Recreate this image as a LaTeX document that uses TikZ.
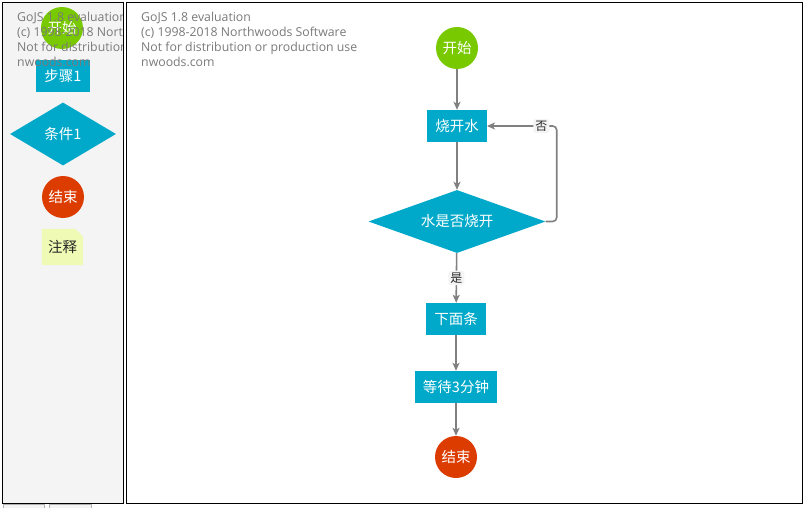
\documentclass[tikz,border=0pt]{standalone}
\usepackage{fontspec}
\setmainfont{Open Sans}
\newfontfamily\cjk{Noto Sans CJK SC}
\usetikzlibrary{arrows.meta,shapes.geometric,positioning}
\definecolor{gostart}{HTML}{79C900}
\definecolor{gostep}{HTML}{00A9C9}
\definecolor{goend}{HTML}{DC3C00}
\definecolor{gonote}{HTML}{EFFAB4}
\definecolor{golink}{HTML}{808080}
\definecolor{gopanel}{HTML}{F4F4F4}
\definecolor{gowater}{HTML}{7A7A7A}

\begin{document}
\begin{tikzpicture}[x=1pt,y=-1pt,
  txt/.style={font=\cjk\fontsize{14.5}{16}\selectfont,text=white},
  startnode/.style={circle,fill=gostart,minimum size=42pt,inner sep=0pt,txt},
  endnode/.style={circle,fill=goend,minimum size=42pt,inner sep=0pt,txt},
  stepnode/.style={rectangle,fill=gostep,minimum height=32pt,inner xsep=8pt,inner ysep=0pt,txt},
  condnode/.style={diamond,fill=gostep,aspect=2.8,minimum width=177pt,minimum height=63pt,inner sep=0pt,txt},
  link/.style={draw=golink,line width=1.6pt,-{Stealth[length=8pt,width=7pt,inset=2pt]}},
  lbl/.style={fill=gopanel,rounded corners=3pt,inner sep=2pt,text=black!85,font=\cjk\fontsize{12}{14}\selectfont},
  wm/.style={anchor=north west,align=left,text=gowater,inner sep=0pt,font=\fontsize{12.3}{15}\selectfont}]
\useasboundingbox (0,0) rectangle (805,508);
% the two panels
\draw[fill=gopanel,line width=0.8pt] (2.5,2.5) rectangle (123,503);
\draw[fill=white,line width=0.8pt] (126,2.5) rectangle (802,503);
% small tabs under the palette
\draw[gray!60,fill=gopanel] (3,504.5) rectangle (44,512);
\draw[gray!60,fill=gopanel] (49,504.5) rectangle (91,512);

% palette
\node[startnode] (pStart) at (62,28) {开始};
\node[stepnode,minimum width=54pt] (pStep) at (63,76) {步骤1};
\node[condnode,aspect=1.7,minimum width=106pt] (pCond) at (63,134) {条件1};
\node[endnode] (pEnd) at (63,197) {结束};
\node[inner sep=0pt,minimum width=41pt,minimum height=36pt] (pNote) at (62.5,247) {};
\fill[gonote] (pNote.north west) -- ([xshift=-8pt]pNote.north east)
  -- ([yshift=-8pt]pNote.north east) -- (pNote.south east) -- (pNote.south west) -- cycle;
\node[font=\cjk\fontsize{14.5}{16}\selectfont,text=black!85] (pNoteText) at (pNote) {注释};
\begin{scope}
  \clip (3,3) rectangle (122.5,502);
  \node[wm] (wmPalette) at (17,12) {GoJS 1.8 evaluation\\(c) 1998-2018 Northwoods Software\\Not for distribution or production use\\nwoods.com};
\end{scope}

% main diagram
\node[wm] (wmMain) at (141,12) {GoJS 1.8 evaluation\\(c) 1998-2018 Northwoods Software\\Not for distribution or production use\\nwoods.com};
\node[startnode] (start) at (457,48) {开始};
\node[stepnode] (boil) at (457,126) {烧开水};
\node[condnode] (check) at (457,221.5) {水是否烧开};
\node[stepnode] (noodle) at (456,319) {下面条};
\node[stepnode] (wait) at (456,387) {等待3分钟};
\node[endnode] (end) at (456,457) {结束};

\draw[link] (start) -- (boil);
\draw[link] (boil) -- (check);
\draw[link] (check) -- node[lbl] (yes) {是} (noodle);
\draw[link] (noodle) -- (wait);
\draw[link] (wait) -- (end);
\draw[link,rounded corners=4pt] (check.east) -- ++(11,0) |- node[lbl,pos=0.61] (no) {否} (boil.east);
\end{tikzpicture}
\end{document}
